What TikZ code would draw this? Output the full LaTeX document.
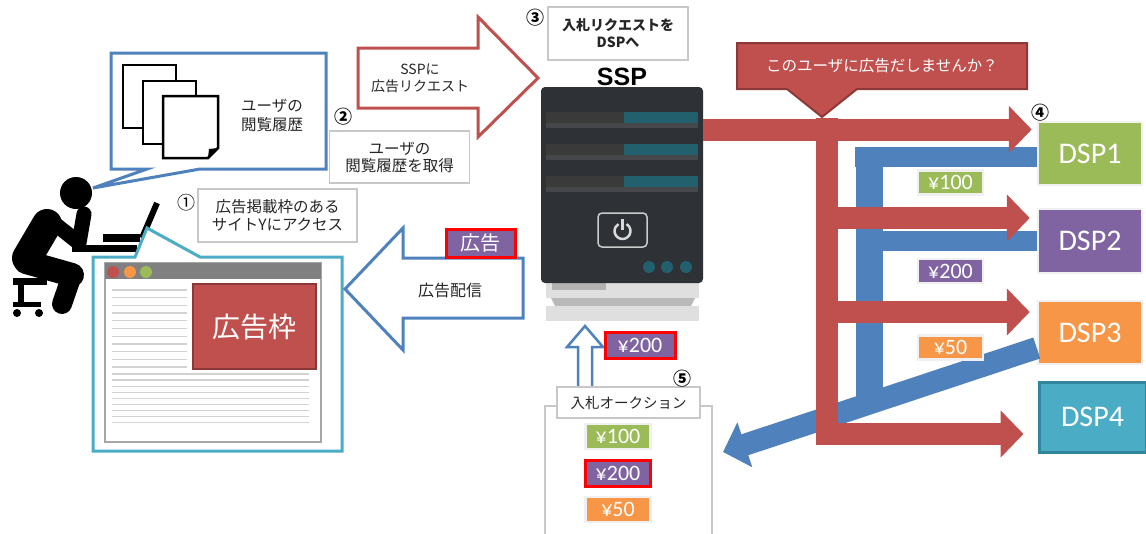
\documentclass[tikz,border=0pt]{standalone}
\usepackage{fontspec}
\setmainfont{Noto Sans CJK JP}
\newfontfamily\labelfont{Carlito}
\newfontfamily\headfont{Liberation Sans}
\usepackage{tikz}
\usetikzlibrary{positioning,arrows.meta}

\definecolor{adred}{HTML}{C0504D}
\definecolor{adredline}{HTML}{8C3836}
\definecolor{flowblue}{HTML}{4F81BD}
\definecolor{webcyan}{HTML}{4BACC6}
\definecolor{dspgreen}{HTML}{9BBB59}
\definecolor{dsppurple}{HTML}{8064A2}
\definecolor{dsporange}{HTML}{F79646}
\definecolor{dspteal}{HTML}{4BACC6}
\definecolor{dsptealline}{HTML}{31859C}
\definecolor{boxgray}{HTML}{C8C8C8}
\definecolor{srvbody}{HTML}{2E3136}
\definecolor{srvbay}{HTML}{3A3A3A}
\definecolor{srvbaylow}{HTML}{45474B}
\definecolor{srvteal}{HTML}{22606D}
\definecolor{textgray}{HTML}{262626}

\begin{document}
\begin{tikzpicture}[
		x=1pt, y=-1pt
		,note/.style={draw=boxgray, line width=1.2, fill=white, align=center, text=textgray, inner sep=0, font=\fontsize{15.5}{18}\selectfont}
		,num/.style={inner sep=0, font=\fontsize{18}{18}\selectfont\bfseries}
		,tag/.style={fill=#1, draw=gray!12, line width=2.5, minimum width=65, minimum height=24, inner sep=0, text=white, font=\labelfont\fontsize{22}{22}\selectfont}
		,won/.style={draw=red, line width=3}
		,dsp/.style={fill=#1, draw=gray!12, line width=2.5, minimum width=104, minimum height=63, inner sep=0, text=white, font=\labelfont\fontsize{30}{30}\selectfont}
		,flow/.style={draw=adred, line width=22, -{Triangle[width=46pt,length=23pt]}}
		,back/.style={draw=flowblue, line width=20}
		,block/.style={line width=3, fill=white, line join=miter}
		,body/.style={line width=#1, line cap=round, line join=round}
		,rule/.style={draw=gray!35, line width=1.3}
	]
	\useasboundingbox (0,0) rectangle (1146,533);

	% user at the desk
	\fill (76,193) circle (16);
	\draw[body=30] (47,224) -- (27,258);
	\draw[body=15] (50,220) -- (79,243) -- (84,214);
	\draw[body=24] (26,262) -- (72,275);
	\draw[body=20] (72,275) -- (62,304);
	\draw[line width=7] (13,281) -- (47,281);
	\draw[line width=6] (21,281) -- (21,304);
	\draw[line width=5] (13,304) -- (41,304);
	\fill (17,313) circle (4) (39,313) circle (4);
	\draw[line width=7] (72,248) -- (137,248);
	\draw[line width=8] (103,238) -- (140,238);
	\draw[line width=6] (142,238) -- (157,203);

	% browsing history bubble
	\draw[draw=flowblue, block] (111,53) -- (326,53) -- (326,169) -- (200,169) -- (93,188) -- (147,169) -- (111,169) -- cycle;
	\foreach \dx/\dy in {0/0, 20/16} {
		\draw[line width=2.5, fill=white] (123+\dx,65+\dy) rectangle (176+\dx,128+\dy);
	}
	\draw[line width=2.5, fill=white] (163,96) -- (218,96) -- (218,148) -- (208,158) -- (163,158) -- cycle;
	\fill (218,148) -- (208,158) -- (209,149) -- cycle;
	\node[align=center, text=textgray, font=\fontsize{15.5}{19}\selectfont] (history) at (272,115) {ユーザの\\閲覧履歴};

	% site with the ad slot
	\draw[draw=webcyan, block] (93,257) -- (135,257) -- (147,228) -- (200,257) -- (342,257) -- (342,451) -- (93,451) -- cycle;
	\draw[draw=gray!70, fill=white, line width=1.5] (105,263) rectangle (321,442);
	\fill[gray] (105,263) rectangle (321,279);
	\fill[adred] (113,272) circle (6);
	\fill[dsporange] (130,272) circle (6);
	\fill[dspgreen] (146,272) circle (6);
	\foreach \i in {0,...,10}
		\draw[rule] (112,290+7.7*\i) -- (187,290+7.7*\i);
	\foreach \i in {0,...,8}
		\draw[rule] (112,374+6.1*\i) -- (309,374+6.1*\i);
	\node[fill=adred, draw=adredline, line width=1.5, minimum width=123, minimum height=85, text=white, font=\fontsize{28}{28}\selectfont] (adslot) at (254.5,326.5) {広告枠};

	\node[note, minimum width=159, minimum height=53] (visit) at (277.5,215.5) {広告掲載枠のある\\サイトYにアクセス};
	\node[num, font=\fontsize{18}{18}\selectfont] at (186,203) {①};

	\node[note, minimum width=140, minimum height=52, font=\fontsize{15.5}{17}\selectfont] (fetch) at (399.5,157) {ユーザの\\閲覧履歴を取得};
	\node[num] at (343,117) {②};

	% ad request to the SSP
	\draw[draw=adred, block] (358,48) -- (478,48) -- (478,17) -- (538,78) -- (478,137) -- (478,108) -- (358,108) -- cycle;
	\node[align=center, text=textgray, font=\fontsize{14}{17}\selectfont] (request) at (420,78) {SSPに\\広告リクエスト};

	\node[note, minimum width=140, minimum height=53, font=\fontsize{14}{17}\selectfont\bfseries] (bidreq) at (618,33.5) {入札リクエストを\\DSPへ};
	\node[num] at (535,18) {③};

	% SSP server
	\fill[gray!25] (546,283) rectangle (699,298);
	\fill[gray!60] (552,283) rectangle (606,290);
	\fill[gray!55] (551,298) -- (695,298) -- (691,306) -- (555,306) -- cycle;
	\fill[gray!25] (546,306) rectangle (699,321);
	\node[fill=srvbody, rounded corners=4, minimum width=162, minimum height=196, inner sep=0] (ssp) at (622,185) {};
	\node[above=1pt of ssp, inner sep=0, font=\headfont\bfseries\fontsize{25}{25}\selectfont] (ssptitle) {SSP};
	\foreach \y in {112,144,176} {
		\fill[srvbay] (546,\y) rectangle (624,\y+11);
		\fill[srvteal] (624,\y) rectangle (698,\y+11);
		\fill[srvbaylow] (546,\y+11) rectangle (698,\y+16);
	}
	\draw[gray!40, line width=1.5, rounded corners=4] (598,213) rectangle (647,247);
	\draw[gray!30, line width=2.5] ([shift={(-60:8)}]622.5,231) arc (-60:240:8);
	\draw[gray!30, line width=2.5] (622.5,219) -- (622.5,230);
	\foreach \x in {649,667,686}
		\fill[srvteal] (\x,267) circle (6);

	% ad delivery back to the site
	\draw[draw=flowblue, block] (523,258) -- (403,258) -- (403,228) -- (345,289) -- (403,350) -- (403,318) -- (523,318) -- cycle;
	\node[text=textgray, font=\fontsize{16}{16}\selectfont] (deliver) at (450,290) {広告配信};
	\node[tag=dsppurple, won, minimum width=69, minimum height=28, font=\fontsize{20}{20}\selectfont] (adtag) at (480.5,243) {広告};

	% auction
	\draw[draw=boxgray, line width=1.2] (545,540) -- (545,406) -- (712,406) -- (712,540);
	\draw[draw=flowblue, line width=2.5, fill=white] (578,388) -- (578,347) -- (567,347) -- (585,326) -- (603,347) -- (592,347) -- (592,388);
	\node[note, minimum width=143, minimum height=31, font=\fontsize{14.5}{15}\selectfont] (auction) at (628.5,402.5) {入札オークション};
	\node[num] at (682,379) {⑤};
	\node[tag=dsppurple, won, minimum width=70, minimum height=26] (winner) at (640,345) {¥200};
	\node[tag=dspgreen, minimum height=25] (bid1) at (618,436.5) {¥100};
	\node[tag=dsppurple, won, minimum height=26] (bid2) at (618,473) {¥200};
	\node[tag=dsporange, minimum height=25] (bid3) at (618,509.5) {¥50};

	% DSPs
	\node[dsp=dspgreen] (dsp1) at (1090,153.5) {DSP1};
	\node[dsp=dsppurple, minimum height=64] (dsp2) at (1090,241) {DSP2};
	\node[dsp=dsporange] (dsp3) at (1090,332.5) {DSP3};
	\node[dsp=dspteal, draw=dsptealline, line width=3, minimum width=107, minimum height=70] (dsp4) at (1092.5,417) {DSP4};
	\node[num] at (1040,113) {④};

	\coordinate (join) at (869,403);
	\coordinate (bidout) at (723,452);
	\coordinate (fork) at (827,129.5);
	\coordinate (in1) at ([shift={(-5,-24)}]dsp1.west);
	\coordinate (in2) at ([shift={(-7,-23)}]dsp2.west);
	\coordinate (in3) at ([shift={(-7,-20.5)}]dsp3.west);
	\coordinate (in4) at ([shift={(-14,17)}]dsp4.west);

	% bids coming back
	\draw[back] ([yshift=-3]dsp1.west) -- (855,156.5);
	\draw[back] (dsp2.west) -- (869,241);
	\draw[back, line width=27] (869,147) -- (join);
	\draw[back, line width=22, -{Triangle[width=46pt,length=23pt]}] ([yshift=-15.5]dsp3.west) -- (bidout);

	% bid requests going out
	\draw[flow] (ssp.east |- fork) -- (in1);
	\draw[flow, line join=miter] (827,118) |- (in4);
	\draw[flow] (827,218) -- (in2);
	\draw[flow] (827,312) -- (in3);

	\draw[fill=adred, draw=adredline, line width=2] (737,43) -- (1027,43) -- (1027,89) -- (857,89) -- (822,117) -- (787,89) -- (737,89) -- cycle;
	\node[text=white, font=\fontsize{15.5}{16}\selectfont] (ask) at (882,66) {このユーザに広告だしませんか？};

	\node[tag=dspgreen] (price1) at (950.5,182.5) {¥100};
	\node[tag=dsppurple] (price2) at (950.5,271) {¥200};
	\node[tag=dsporange] (price3) at (950.5,347.5) {¥50};
\end{tikzpicture}
\end{document}
